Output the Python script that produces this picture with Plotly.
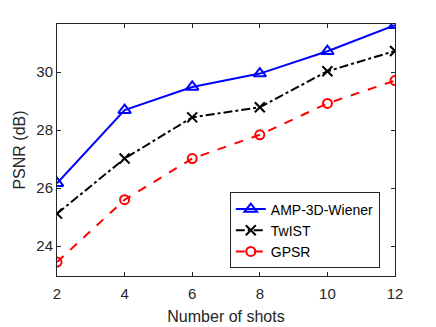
import plotly.graph_objects as go

shots = [2, 4, 6, 8, 10, 12]
amp_3d_wiener = [26.17, 28.69, 29.49, 29.95, 30.72, 31.62]
twist = [25.12, 27.02, 28.44, 28.79, 30.03, 30.73]
gpsr = [23.45, 25.6, 27.02, 27.84, 28.92, 29.71]

x_ticks = [2, 4, 6, 8, 10, 12]
y_ticks = [24, 26, 28, 30]

fig = go.Figure()
fig.add_trace(
    go.Scatter(
        name="AMP-3D-Wiener",
        x=shots,
        y=amp_3d_wiener,
        mode="lines+markers",
        line=dict(color="#0000ff", width=2),
        marker=dict(symbol="triangle-up-open", size=11, color="#0000ff", line=dict(width=2)),
    )
)
fig.add_trace(
    go.Scatter(
        name="TwIST",
        x=shots,
        y=twist,
        mode="lines+markers",
        line=dict(color="#000000", width=2, dash="dashdot"),
        marker=dict(symbol="x-thin-open", size=10, color="#000000", line=dict(width=2, color="#000000")),
    )
)
fig.add_trace(
    go.Scatter(
        name="GPSR",
        x=shots,
        y=gpsr,
        mode="lines+markers",
        line=dict(color="#ff0000", width=2, dash="dash"),
        marker=dict(symbol="circle-open", size=9, color="#ff0000", line=dict(width=2)),
    )
)

# page body has an 8px margin, so the figure is a little smaller and shifted
fig.update_layout(
    width=428,
    height=319,
    plot_bgcolor="white",
    paper_bgcolor="white",
    margin=dict(l=49, r=41, t=16, b=51),
    font=dict(family="Liberation Sans, Arial, sans-serif", size=15, color="#262626"),
    showlegend=True,
    legend=dict(
        x=0.955,
        y=0.03,
        xanchor="right",
        yanchor="bottom",
        bgcolor="white",
        bordercolor="#262626",
        borderwidth=1,
        font=dict(size=14, color="#000000"),
        tracegroupgap=0,
        itemwidth=30,
    ),
)
fig.update_xaxes(
    title=dict(text="Number of shots", font=dict(size=16), standoff=9),
    automargin=False,
    range=[2, 12],
    tickvals=x_ticks,
    ticks="inside",
    ticklen=4,
    tickcolor="#262626",
    ticklabelstandoff=4,
    showline=True,
    linecolor="#262626",
    linewidth=1,
    mirror="ticks",
    showgrid=False,
    zeroline=False,
)
fig.update_yaxes(
    title=dict(text="PSNR (dB)", font=dict(size=16), standoff=6),
    automargin=False,
    range=[22.97, 31.66],
    tickvals=y_ticks,
    ticks="inside",
    ticklen=4,
    tickcolor="#262626",
    showline=True,
    linecolor="#262626",
    linewidth=1,
    mirror="ticks",
    showgrid=False,
    zeroline=False,
)

fig.write_html("out.html")
